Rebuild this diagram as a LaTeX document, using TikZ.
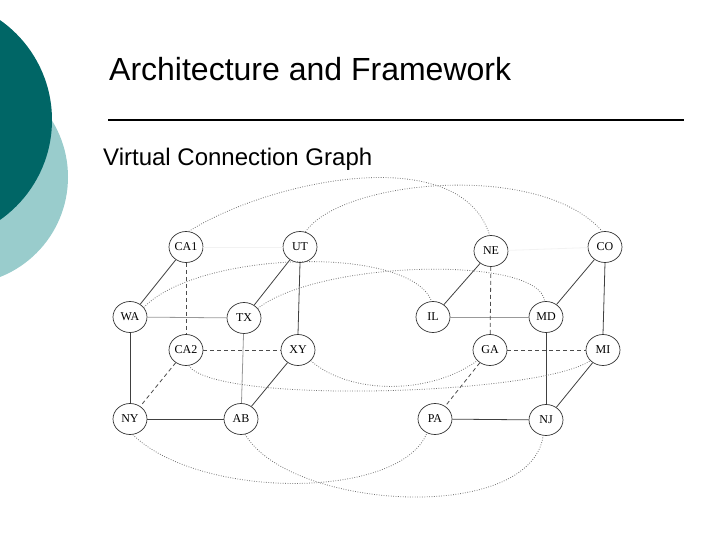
\documentclass[tikz,border=0pt]{standalone}
\usepackage{fontspec}
\setmainfont{Liberation Sans}
\newfontfamily\nodefont{Liberation Serif}
\usetikzlibrary{shapes.geometric}
\definecolor{tealdark}{RGB}{0,102,102}
\definecolor{teallight}{RGB}{153,204,204}
\tikzset{
  st/.style={draw=black!80, ellipse, minimum width=34pt, minimum height=31pt, inner sep=0pt, line width=0.7pt, font=\nodefont\fontsize{12}{12}\selectfont, text=black},
  solidedge/.style={draw=black!75, line width=0.8pt},
  lightedge/.style={draw=black!40, line width=0.8pt},
  faintedge/.style={draw=black!5, line width=0.8pt},
  dashededge/.style={draw=black!70, line width=0.8pt, dash pattern=on 4pt off 3pt},
  dottededge/.style={draw=black!55, line width=0.8pt, dash pattern=on 0.8pt off 1.6pt},
}
\begin{document}
\begin{tikzpicture}[x=1pt,y=-1pt]
\useasboundingbox (0,0) rectangle (720,540);
\begin{scope}
  \clip (0,0) rectangle (720,540);
  \fill[teallight] (-39.5,177) circle (107.5);
  \fill[tealdark] (-70,120) circle (122);
\end{scope}
\node[anchor=base west, inner sep=0pt, font=\fontsize{32}{32}\selectfont] (title) at (109,81) {Architecture and Framework};
\coordinate (ruleA) at (108,120);
\coordinate (ruleB) at (684,120);
\draw[line width=2pt] (ruleA) -- (ruleB);
\node[anchor=base west, inner sep=0pt, font=\fontsize{24}{24}\selectfont] (sub) at (103,166) {Virtual Connection Graph};

% nodes
\node[st] (CA1) at (186,247) {CA1};
\node[st] (UT)  at (300,247) {UT};
\node[st] (NE)  at (491,251) {NE};
\node[st] (CO)  at (605,247) {CO};
\node[st] (WA)  at (130,317) {WA};
\node[st] (TX)  at (244,318) {TX};
\node[st] (IL)  at (433,317) {IL};
\node[st] (MD)  at (546,317) {MD};
\node[st] (CA2) at (186,350) {CA2};
\node[st] (XY)  at (298,350) {XY};
\node[st] (GA)  at (490,350) {GA};
\node[st] (MI)  at (603,350) {MI};
\node[st] (NY)  at (130,419) {NY};
\node[st] (AB)  at (241,419) {AB};
\node[st] (PA)  at (435,419) {PA};
\node[st] (NJ)  at (546,420) {NJ};

% faint top edges
\draw[faintedge] (CA1) -- (UT);
\draw[faintedge] (NE) -- (CO);
% solid edges
\draw[solidedge] (CA1) -- (WA);
\draw[solidedge] (UT) -- (TX);
\draw[solidedge] (UT.south) -- (XY.north);
\draw[solidedge] (WA) -- (NY);
\draw[solidedge] (NY) -- (AB);
\draw[solidedge] (AB) -- (XY);
\draw[solidedge] (NE) -- (IL);
\draw[solidedge] (CO) -- (MD);
\draw[solidedge] (CO.south) -- (MI.north);
\draw[solidedge] (MD) -- (NJ);
\draw[solidedge] (NJ) -- (MI);
\draw[solidedge] (PA) -- (NJ);
% light edges
\draw[lightedge] (WA) -- (TX);
\draw[lightedge] (TX) -- (AB);
\draw[lightedge] (IL) -- (MD);
% dashed edges
\draw[dashededge] (CA1) -- (CA2);
\draw[dashededge] (CA2) -- (XY);
\draw[dashededge] (CA2) -- (NY);
\draw[dashededge] (NE) -- (GA);
\draw[dashededge] (GA) -- (MI);
\draw[dashededge] (GA) -- (PA);
% dotted curves
\draw[dottededge] (CA1.80) .. controls (270,180) and (460,140) .. (NE.95);
\draw[dottededge] (UT.70) .. controls (340,180) and (540,160) .. (CO.100);
\draw[dottededge] (WA.35) .. controls (200,250) and (410,245) .. (IL.95);
\draw[dottededge] (TX.35) .. controls (320,260) and (540,255) .. (MD.95);
\draw[dottededge] (CA2.-80) .. controls (215,405) and (540,395) .. (MI.-140);
\draw[dottededge] (XY.-40) .. controls (350,395) and (430,395) .. (GA.-140);
\draw[dottededge] (NY.-80) .. controls (200,500) and (400,500) .. (PA.-120);
\draw[dottededge] (AB.-75) .. controls (290,510) and (530,525) .. (NJ.-100);
\end{tikzpicture}
\end{document}
